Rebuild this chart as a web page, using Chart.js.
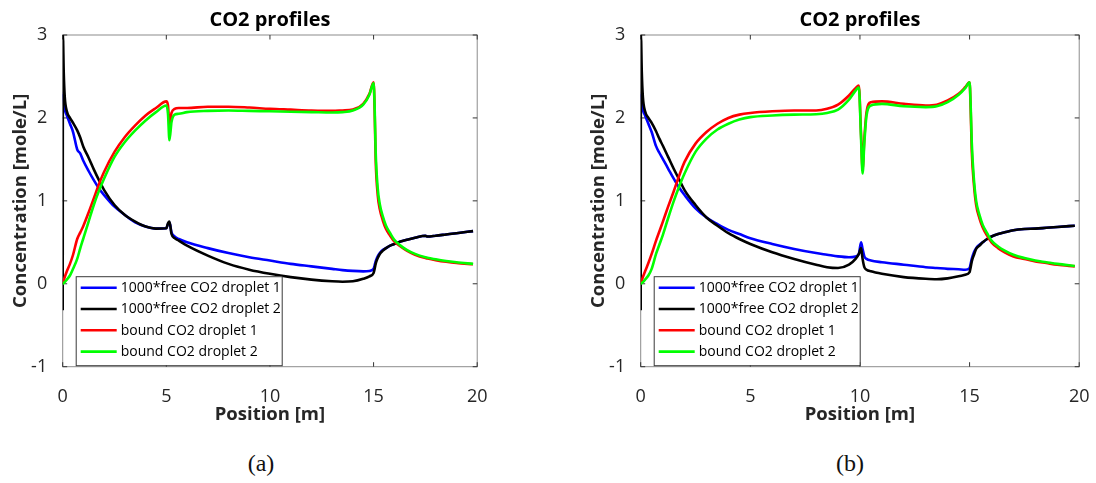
<!DOCTYPE html>
<html>
<head>
<meta charset="utf-8">
<script src="https://cdn.jsdelivr.net/npm/chart.js@4.4.0/dist/chart.umd.min.js"></script>
<style>
  html, body { margin: 0; padding: 0; background: #fff; overflow: hidden; width: 1096px; height: 483px; }
  .panel { position: absolute; top: 0; height: 440px; }
  .caption { position: absolute; top: 449px; width: 80px; margin-left: -40px; text-align: center;
             font-family: "Liberation Serif", serif; font-size: 24px; line-height: 28px; color: #111; }
</style>
</head>
<body>
<div class="panel" style="left:0px; width:499px"><canvas id="chartA"></canvas></div>
<div class="panel" style="left:578px; width:523px"><canvas id="chartB"></canvas></div>
<div class="caption" style="left:261px">(a)</div>
<div class="caption" style="left:850px">(b)</div>
<script>
// shared series labels / colours
const seriesLabels = ['1000*free CO2 droplet 1', '1000*free CO2 droplet 2', 'bound CO2 droplet 1', 'bound CO2 droplet 2'];
const seriesColors = ['#0000ff', '#000000', '#ff0000', '#00ff00'];
const xTicks = [0, 5, 10, 15, 20];
const yTicks = [-1, 0, 1, 2, 3];

// case (a): disturbance at 5 m
const posA = [0, 0.01, 0.05, 0.1, 0.2, 0.35, 0.5, 0.7, 0.85, 1,
  1.25, 1.5, 1.75, 2, 2.5, 3, 3.5, 4, 4.5, 5,
  5.08, 5.15, 5.25, 5.4, 5.6, 6, 7, 8, 9, 10,
  11, 12, 13, 13.5, 14, 14.5, 14.8, 15, 15.05, 15.1,
  15.2, 15.3, 15.45, 15.6, 15.8, 16, 16.3, 16.6, 17, 17.5,
  17.6, 18, 18.5, 19, 19.8];
const free1A = [2.3, 2.3, 2.2, 2.1, 2.03, 1.93, 1.83, 1.62, 1.57, 1.48,
  1.36, 1.25, 1.15, 1.07, 0.93, 0.83, 0.74, 0.69, 0.665, 0.67,
  0.72, 0.74, 0.62, 0.57, 0.54, 0.5, 0.43, 0.37, 0.32, 0.28,
  0.24, 0.21, 0.18, 0.165, 0.155, 0.15, 0.155, 0.18, 0.22, 0.27,
  0.33, 0.37, 0.41, 0.43, 0.46, 0.48, 0.51, 0.53, 0.555, 0.58,
  0.57, 0.58, 0.595, 0.61, 0.635];
const free2A = [-0.32, 3.0, 2.55, 2.25, 2.08, 2.0, 1.94, 1.85, 1.76, 1.65,
  1.52, 1.38, 1.25, 1.13, 0.95, 0.83, 0.75, 0.69, 0.665, 0.67,
  0.73, 0.75, 0.6, 0.55, 0.52, 0.46, 0.34, 0.24, 0.17, 0.12,
  0.08, 0.05, 0.03, 0.025, 0.03, 0.06, 0.09, 0.13, 0.18, 0.24,
  0.31, 0.36, 0.4, 0.43, 0.46, 0.48, 0.51, 0.53, 0.555, 0.58,
  0.57, 0.58, 0.595, 0.61, 0.635];
const bound1A = [0, 0.01, 0.04, 0.08, 0.15, 0.24, 0.35, 0.54, 0.62, 0.7,
  0.86, 1.03, 1.2, 1.35, 1.59, 1.77, 1.91, 2.03, 2.12, 2.2,
  2.15, 1.92, 2.06, 2.11, 2.12, 2.12, 2.135, 2.135, 2.125, 2.11,
  2.1, 2.09, 2.085, 2.09, 2.1, 2.17, 2.29, 2.43, 2.1, 1.5,
  1.07, 0.9, 0.76, 0.66, 0.58, 0.51, 0.45, 0.4, 0.35, 0.31,
  0.305, 0.285, 0.265, 0.25, 0.235];
const bound2A = [0, 0, 0.01, 0.02, 0.05, 0.1, 0.18, 0.3, 0.43, 0.55,
  0.75, 0.95, 1.12, 1.27, 1.53, 1.71, 1.85, 1.97, 2.07, 2.15,
  2.05, 1.73, 1.95, 2.04, 2.05, 2.07, 2.085, 2.09, 2.085, 2.08,
  2.075, 2.07, 2.065, 2.07, 2.09, 2.16, 2.28, 2.42, 2.15, 1.6,
  1.15, 0.96, 0.81, 0.7, 0.61, 0.53, 0.46, 0.41, 0.36, 0.32,
  0.315, 0.295, 0.275, 0.26, 0.24];

// case (b): disturbance at 10 m
const posB = [0, 0.01, 0.05, 0.1, 0.2, 0.35, 0.5, 0.7, 0.85, 1,
  1.25, 1.5, 1.75, 2, 2.5, 3, 3.5, 4, 4.5, 5,
  6, 7, 8, 8.5, 9, 9.5, 9.8, 9.95, 10.05, 10.12,
  10.2, 10.3, 10.5, 11, 12, 13, 13.5, 14, 14.5, 14.8,
  15, 15.05, 15.1, 15.2, 15.3, 15.45, 15.6, 15.8, 16, 16.3,
  16.6, 17, 17.5, 18, 18.5, 19, 19.8];
const free1B = [2.3, 2.3, 2.2, 2.1, 2.03, 1.93, 1.83, 1.66, 1.58, 1.51,
  1.39, 1.27, 1.16, 1.07, 0.91, 0.8, 0.72, 0.65, 0.6, 0.55,
  0.48, 0.42, 0.37, 0.35, 0.33, 0.32, 0.33, 0.36, 0.5, 0.42,
  0.33, 0.3, 0.28, 0.26, 0.23, 0.2, 0.19, 0.18, 0.175, 0.17,
  0.19, 0.24, 0.3, 0.38, 0.43, 0.47, 0.5, 0.54, 0.57, 0.6,
  0.62, 0.645, 0.66, 0.665, 0.675, 0.685, 0.7];
const free2B = [-0.32, 3.0, 2.55, 2.25, 2.08, 2.0, 1.94, 1.84, 1.75, 1.67,
  1.53, 1.39, 1.26, 1.13, 0.95, 0.8, 0.7, 0.61, 0.54, 0.48,
  0.38, 0.3, 0.23, 0.2, 0.19, 0.23, 0.3, 0.36, 0.43, 0.3,
  0.2, 0.17, 0.15, 0.12, 0.08, 0.06, 0.055, 0.065, 0.09, 0.11,
  0.14, 0.2, 0.27, 0.35, 0.42, 0.46, 0.5, 0.54, 0.57, 0.6,
  0.62, 0.645, 0.66, 0.665, 0.675, 0.685, 0.7];
const bound1B = [0, 0.01, 0.04, 0.08, 0.15, 0.25, 0.36, 0.52, 0.63, 0.74,
  0.93, 1.11, 1.3, 1.47, 1.69, 1.83, 1.93, 2.0, 2.04, 2.06,
  2.08, 2.09, 2.09, 2.11, 2.16, 2.27, 2.36, 2.39, 1.8, 1.38,
  1.75, 2.07, 2.19, 2.2, 2.17, 2.15, 2.16, 2.21, 2.29, 2.37,
  2.43, 2.1, 1.6, 1.19, 0.95, 0.79, 0.68, 0.58, 0.5, 0.43,
  0.38, 0.33, 0.3, 0.27, 0.25, 0.23, 0.21];
const bound2B = [0, 0, 0.01, 0.02, 0.05, 0.1, 0.18, 0.36, 0.47, 0.58,
  0.79, 0.99, 1.17, 1.33, 1.59, 1.75, 1.86, 1.93, 1.98, 2.01,
  2.03, 2.04, 2.045, 2.06, 2.1, 2.22, 2.33, 2.37, 1.75, 1.33,
  1.7, 2.03, 2.15, 2.17, 2.14, 2.13, 2.14, 2.19, 2.28, 2.36,
  2.43, 2.15, 1.7, 1.25, 1.0, 0.83, 0.71, 0.61, 0.52, 0.45,
  0.4, 0.35, 0.31, 0.28, 0.26, 0.24, 0.215];

// axes box with inward ticks on all four sides
const axesBox = {
  id: 'axesBox',
  beforeDatasetsDraw(chart) {
    const { ctx, chartArea: a, scales } = chart;
    ctx.save();
    ctx.strokeStyle = '#8c8c8c';
    ctx.lineWidth = 1;
    ctx.strokeRect(a.left, a.top, a.right - a.left, a.bottom - a.top);
    ctx.strokeStyle = '#333';
    ctx.beginPath();
    xTicks.forEach(v => {
      const px = scales.x.getPixelForValue(v);
      ctx.moveTo(px, a.bottom); ctx.lineTo(px, a.bottom - 4.5);
      ctx.moveTo(px, a.top); ctx.lineTo(px, a.top + 4.5);
    });
    yTicks.forEach(v => {
      const py = scales.y.getPixelForValue(v);
      ctx.moveTo(a.left, py); ctx.lineTo(a.left + 4.5, py);
      ctx.moveTo(a.right, py); ctx.lineTo(a.right - 4.5, py);
    });
    ctx.stroke();
    ctx.restore();
  }
};

// boxed legend in the lower-left corner of the plot area
const boxLegend = {
  id: 'boxLegend',
  afterDatasetsDraw(chart) {
    const { ctx, chartArea: a } = chart;
    const w = 206, h = 89, rowH = 21.3;
    const left = a.left + 13, top = a.bottom - 1.5 - h;
    ctx.save();
    ctx.fillStyle = '#fff';
    ctx.fillRect(left, top, w, h);
    ctx.strokeStyle = '#3a3a3a';
    ctx.lineWidth = 1;
    ctx.strokeRect(left + 0.5, top + 0.5, w, h);
    ctx.font = '14px "Open Sans"';
    ctx.textBaseline = 'middle';
    chart.data.datasets.forEach((ds, i) => {
      const y = top + 11.5 + i * rowH;
      ctx.strokeStyle = ds.borderColor;
      ctx.lineWidth = 2.6;
      ctx.beginPath();
      ctx.moveTo(left + 5, y);
      ctx.lineTo(left + 41, y);
      ctx.stroke();
      ctx.fillStyle = '#000';
      ctx.fillText(ds.label, left + 45, y + 0.5);
    });
    ctx.restore();
  }
};

function makeChart(id, pos, series) {
  const datasets = series.map((vals, i) => ({
    label: seriesLabels[i],
    data: pos.map((x, k) => ({ x: x, y: vals[k] })),
    borderColor: seriesColors[i],
    backgroundColor: seriesColors[i],
    borderWidth: 2.6,
    pointRadius: 0,
    cubicInterpolationMode: 'monotone',
    order: series.length - i
  }));
  return new Chart(document.getElementById(id), {
    type: 'line',
    data: { datasets: datasets },
    options: {
      responsive: true,
      maintainAspectRatio: false,
      animation: false,
      layout: { padding: { left: 0, right: 20, top: 0, bottom: 0 } },
      plugins: {
        legend: { display: false },
        tooltip: { enabled: false }
      },
      scales: {
        x: {
          type: 'linear', min: 0, max: 20,
          afterFit: s => { s.height = 73.3; },
          afterBuildTicks: s => { s.ticks = xTicks.map(v => ({ value: v })); },
          grid: { display: false },
          border: { display: false },
          ticks: { color: '#262626', padding: 11.5, font: { family: 'Open Sans', size: 18 } },
          title: {
            display: true, text: 'Position [m]', color: '#262626',
            font: { family: 'Open Sans', size: 18.5, weight: 'bold' },
            padding: { top: 0, bottom: 14 }
          }
        },
        // top axis only carries the plot title, centred over the plot area
        top: {
          type: 'linear', position: 'top', min: 0, max: 20,
          afterFit: s => { s.height = 35; },
          grid: { display: false },
          border: { display: false },
          ticks: { display: false },
          title: {
            display: true, text: 'CO2 profiles', color: '#000',
            font: { family: 'Open Sans', size: 20, weight: 'bold' },
            padding: { top: 8, bottom: 0 }
          }
        },
        y: {
          min: -1, max: 3,
          afterFit: s => { s.width = 62.7; },
          afterBuildTicks: s => { s.ticks = yTicks.map(v => ({ value: v })); },
          grid: { display: false },
          border: { display: false },
          ticks: { color: '#262626', padding: 7.5, font: { family: 'Open Sans', size: 18 } },
          title: {
            display: true, text: 'Concentration [mole/L]', color: '#262626',
            font: { family: 'Open Sans', size: 18.5, weight: 'bold' },
            padding: { top: 10, bottom: 0 }
          }
        }
      }
    },
    plugins: [axesBox, boxLegend]
  });
}

makeChart('chartA', posA, [free1A, free2A, bound1A, bound2A]);
makeChart('chartB', posB, [free1B, free2B, bound1B, bound2B]);
</script>
</body>
</html>
